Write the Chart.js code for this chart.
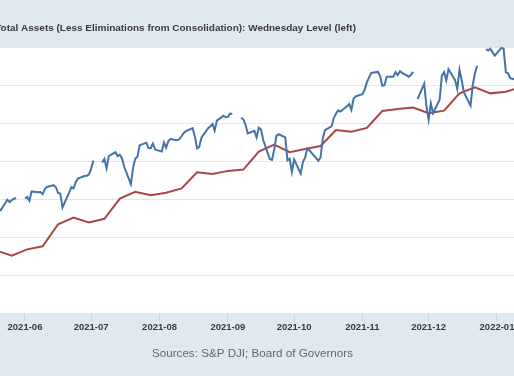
<!DOCTYPE html>
<html>
<head>
<meta charset="utf-8">
<script src="https://cdn.jsdelivr.net/npm/chart.js@4.4.1/dist/chart.umd.min.js"></script>
<style>
  html, body { margin: 0; padding: 0; background: #e1e9f0; overflow: hidden; }
  #wrap { width: 514px; height: 376px; position: relative; }
</style>
</head>
<body>
<div id="wrap"><canvas id="c" width="514" height="376"></canvas></div>
<script>
// ---------- DATA ----------
const titleText = "Total Assets (Less Eliminations from Consolidation): Wednesday Level (left)";
const sourceText = "Sources: S&P DJI; Board of Governors";

const tickDates = ["2021-06-01","2021-07-01","2021-08-01","2021-09-01","2021-10-01","2021-11-01","2021-12-01","2022-01-01"];
const tickLabels = ["2021-06","2021-07","2021-08","2021-09","2021-10","2021-11","2021-12","2022-01"];

// S&P 500 daily close (right axis); null = market holiday (line break)
const spxDates = [
"2021-05-19","2021-05-20","2021-05-21","2021-05-24","2021-05-25","2021-05-26","2021-05-27","2021-05-28","2021-05-31",
"2021-06-01","2021-06-02","2021-06-03","2021-06-04","2021-06-07","2021-06-08","2021-06-09","2021-06-10","2021-06-11",
"2021-06-14","2021-06-15","2021-06-16","2021-06-17","2021-06-18","2021-06-21","2021-06-22","2021-06-23","2021-06-24",
"2021-06-25","2021-06-28","2021-06-29","2021-06-30","2021-07-01","2021-07-02","2021-07-05","2021-07-06","2021-07-07",
"2021-07-08","2021-07-09","2021-07-12","2021-07-13","2021-07-14","2021-07-15","2021-07-16","2021-07-19","2021-07-20",
"2021-07-21","2021-07-22","2021-07-23","2021-07-26","2021-07-27","2021-07-28","2021-07-29","2021-07-30","2021-08-02",
"2021-08-03","2021-08-04","2021-08-05","2021-08-06","2021-08-09","2021-08-10","2021-08-11","2021-08-12","2021-08-13",
"2021-08-16","2021-08-17","2021-08-18","2021-08-19","2021-08-20","2021-08-23","2021-08-24","2021-08-25","2021-08-26",
"2021-08-27","2021-08-30","2021-08-31","2021-09-01","2021-09-02","2021-09-03","2021-09-06","2021-09-07","2021-09-08",
"2021-09-09","2021-09-10","2021-09-13","2021-09-14","2021-09-15","2021-09-16","2021-09-17","2021-09-20","2021-09-21",
"2021-09-22","2021-09-23","2021-09-24","2021-09-27","2021-09-28","2021-09-29","2021-09-30","2021-10-01","2021-10-04",
"2021-10-05","2021-10-06","2021-10-07","2021-10-08","2021-10-11","2021-10-12","2021-10-13","2021-10-14","2021-10-15",
"2021-10-18","2021-10-19","2021-10-20","2021-10-21","2021-10-22","2021-10-25","2021-10-26","2021-10-27","2021-10-28",
"2021-10-29","2021-11-01","2021-11-02","2021-11-03","2021-11-04","2021-11-05","2021-11-08","2021-11-09","2021-11-10",
"2021-11-11","2021-11-12","2021-11-15","2021-11-16","2021-11-17","2021-11-18","2021-11-19","2021-11-22","2021-11-23",
"2021-11-24","2021-11-25","2021-11-26","2021-11-29","2021-11-30","2021-12-01","2021-12-02","2021-12-03","2021-12-06",
"2021-12-07","2021-12-08","2021-12-09","2021-12-10","2021-12-13","2021-12-14","2021-12-15","2021-12-16","2021-12-17",
"2021-12-20","2021-12-21","2021-12-22","2021-12-23","2021-12-24","2021-12-27","2021-12-28","2021-12-29","2021-12-30",
"2021-12-31","2022-01-03","2022-01-04","2022-01-05","2022-01-06","2022-01-07","2022-01-10"
];
const spxValues = [
4115.68,4159.12,4155.86,4197.05,4188.13,4195.99,4200.88,4204.11,null,
4202.04,4208.12,4192.85,4229.89,4226.52,4227.26,4219.55,4239.18,4247.44,
4255.15,4246.59,4223.70,4221.86,4166.45,4224.79,4246.44,4241.84,4266.49,
4280.70,4290.61,4291.80,4297.50,4319.94,4352.34,null,4343.54,4358.13,
4320.82,4369.55,4384.63,4369.21,4374.30,4360.03,4327.16,4258.49,4323.06,
4358.69,4367.48,4411.79,4422.30,4401.46,4400.64,4419.15,4395.26,4387.16,
4423.15,4402.66,4429.10,4436.52,4432.35,4436.75,4447.70,4460.83,4468.00,
4479.71,4448.08,4400.27,4405.80,4441.67,4479.53,4486.23,4496.19,4470.00,
4509.37,4528.79,4522.68,4524.09,4536.95,4535.43,null,4520.03,4514.07,
4493.28,4458.58,4468.73,4443.05,4480.70,4473.75,4432.99,4357.73,4354.19,
4395.64,4448.98,4455.48,4443.11,4352.63,4359.46,4307.54,4357.04,4300.46,
4345.72,4363.55,4399.76,4391.34,4361.19,4350.65,4363.80,4438.26,4471.37,
4486.46,4519.63,4536.19,4549.78,4544.90,4566.48,4574.79,4551.68,4596.42,
4605.38,4613.67,4630.65,4660.57,4680.06,4697.53,4701.70,4685.25,4646.71,
4649.27,4682.85,4682.80,4700.90,4688.67,4704.54,4697.96,4682.94,4690.70,
4701.46,null,4594.62,4655.27,4567.00,4513.04,4577.10,4538.43,4591.67,
4686.75,4701.21,4667.45,4712.02,4668.97,4634.09,4709.85,4668.67,4620.64,
4568.02,4649.23,4696.56,4725.79,null,4791.19,4786.35,4793.06,4778.73,
4766.18,4796.56,4793.54,4700.58,4696.05,4677.03,4670.29
];

// Fed total assets, Wednesday level, millions of dollars (left axis)
const walclDates = [
"2021-05-19","2021-05-26","2021-06-02","2021-06-09","2021-06-16","2021-06-23","2021-06-30","2021-07-07",
"2021-07-14","2021-07-21","2021-07-28","2021-08-04","2021-08-11","2021-08-18","2021-08-25","2021-09-01",
"2021-09-08","2021-09-15","2021-09-22","2021-09-29","2021-10-06","2021-10-13","2021-10-20","2021-10-27",
"2021-11-03","2021-11-10","2021-11-17","2021-11-24","2021-12-01","2021-12-08","2021-12-15","2021-12-22",
"2021-12-29","2022-01-05","2022-01-12"
];
const walclValues = [
7929000,7902000,7935000,7951000,8067000,8102000,8077000,8096000,
8202000,8238000,8220000,8233000,8256000,8341000,8332000,8348000,
8355000,8449000,8486000,8446000,8463000,8479000,8563000,8554000,
8574000,8663000,8674000,8681000,8651000,8665000,8756000,8788000,
8756000,8765000,8788000
];

// ---------- HELPERS ----------
function dayNum(s) {
  const p = s.split("-").map(Number);
  return Date.UTC(p[0], p[1] - 1, p[2]) / 86400000;
}
const spxPoints = spxDates.map((d, i) => ({ x: dayNum(d), y: spxValues[i] }));
const walclPoints = walclDates.map((d, i) => ({ x: dayNum(d), y: walclValues[i] }));
const tickValues = tickDates.map(dayNum);

const BG = "#e1e9f0";

const framePlugin = {
  id: "frame",
  beforeDraw(chart) {
    const ctx = chart.ctx, a = chart.chartArea;
    ctx.save();
    ctx.fillStyle = BG;
    ctx.fillRect(0, 0, chart.width, chart.height);
    ctx.fillStyle = "#ffffff";
    ctx.fillRect(a.left, a.top, a.right - a.left, a.bottom - a.top);
    ctx.restore();
  },
  afterDraw(chart) {
    const ctx = chart.ctx;
    ctx.save();
    // Title (left part clipped by the frame edge)
    ctx.font = "bold 10px 'Liberation Sans', Arial, sans-serif";
    const visible = titleText.slice(1);
    const w = ctx.measureText(visible).width;
    const size = 10 * 356 / w;
    ctx.font = "bold " + size.toFixed(2) + "px 'Liberation Sans', Arial, sans-serif";
    ctx.fillStyle = "#3a3a3a";
    ctx.textAlign = "right";
    ctx.textBaseline = "middle";
    ctx.fillText(titleText, 356, 28.5);
    // Sources
    ctx.font = "10px 'Liberation Sans', Arial, sans-serif";
    const sw = ctx.measureText(sourceText).width;
    const ss = 10 * 201 / sw;
    ctx.font = ss.toFixed(2) + "px 'Liberation Sans', Arial, sans-serif";
    ctx.fillStyle = "#666666";
    ctx.textAlign = "center";
    ctx.fillText(sourceText, 252.5, 354);
    ctx.restore();
  }
};

const xMin = dayNum("2021-06-01") - 11.33;
const xMax = dayNum("2022-01-01") + 7.71;

new Chart(document.getElementById("c"), {
  type: "line",
  data: {
    datasets: [
      {
        label: "S&P 500",
        data: spxPoints,
        yAxisID: "y1",
        borderColor: "#4572a7",
        borderWidth: 2,
        pointRadius: 0,
        tension: 0,
        spanGaps: false,
        fill: false
      },
      {
        label: "Total Assets (Less Eliminations from Consolidation): Wednesday Level",
        data: walclPoints,
        yAxisID: "y",
        borderColor: "#aa4643",
        borderWidth: 2,
        pointRadius: 0,
        tension: 0,
        fill: false
      }
    ]
  },
  options: {
    responsive: false,
    animation: false,
    devicePixelRatio: 1,
    layout: { padding: { top: 47, left: 0, right: 0, bottom: 0 } },
    plugins: { legend: { display: false }, title: { display: false }, tooltip: { enabled: false } },
    scales: {
      x: {
        type: "linear",
        min: xMin,
        max: xMax,
        afterBuildTicks(scale) { scale.ticks = tickValues.map(v => ({ value: v })); },
        afterFit(scale) { scale.height = 63; scale.paddingLeft = 0; scale.paddingRight = 0; },
        border: { display: false },
        grid: { drawOnChartArea: false, drawTicks: true, tickLength: 8, color: "#ccd6eb", lineWidth: 1 },
        ticks: {
          autoSkip: false,
          maxRotation: 0,
          padding: 1,
          color: "#3a3a3a",
          font: { family: "'Liberation Sans', Arial, sans-serif", size: 9.5, weight: "bold" },
          callback(value) {
            const i = tickValues.indexOf(value);
            return i >= 0 ? tickLabels[i] : "";
          }
        }
      },
      y: {
        position: "left",
        min: 7600000,
        max: 9000000,
        afterFit(scale) { scale.width = 0; },
        border: { display: false },
        grid: { color: "#e6e6e6", lineWidth: 1, drawTicks: false },
        ticks: { display: false, stepSize: 200000 }
      },
      y1: {
        position: "right",
        min: 3750,
        max: 4800,
        afterFit(scale) { scale.width = 0; },
        border: { display: false },
        grid: { display: false },
        ticks: { display: false, stepSize: 150 }
      }
    }
  },
  plugins: [framePlugin]
});
</script>
</body>
</html>
